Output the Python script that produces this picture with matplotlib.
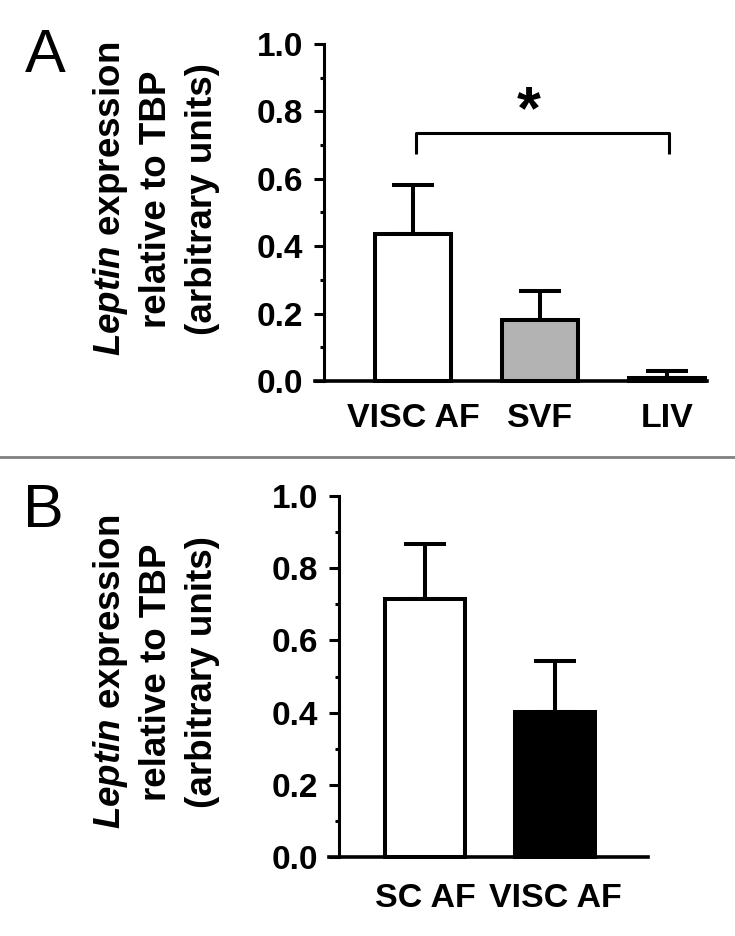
import numpy as np
import matplotlib
matplotlib.use('Agg')
import matplotlib.pyplot as plt
from matplotlib.lines import Line2D
from matplotlib.ticker import MultipleLocator

plt.rcParams['font.family'] = ['Liberation Sans', 'DejaVu Sans']
plt.rcParams['mathtext.fontset'] = 'custom'
plt.rcParams['mathtext.rm'] = 'Liberation Sans:bold'
plt.rcParams['mathtext.it'] = 'Liberation Sans:italic:bold'
plt.rcParams['mathtext.bf'] = 'Liberation Sans:bold'

# ---- data ----
cats_a = ['VISC AF', 'SVF', 'LIV']
means_a = [0.435, 0.182, 0.010]
sem_a = [0.146, 0.085, 0.020]
colors_a = ['white', '#b3b3b3', 'white']

cats_b = ['SC AF', 'VISC AF']
means_b = [0.715, 0.402]
sem_b = [0.151, 0.140]
colors_b = ['white', 'black']

yticks = [0.0, 0.2, 0.4, 0.6, 0.8, 1.0]
ylabel_lines = [r'$\mathit{Leptin}$ expression', 'relative to TBP', '(arbitrary units)']

W, H = 735, 936
fig = plt.figure(figsize=(W / 100, H / 100), dpi=100)


def px_rect(left, top, right, bottom):
    return [left / W, 1 - bottom / H, (right - left) / W, (bottom - top) / H]


def panel(rect, cats, means, sems, colors, xlim, spine_frac, width, xpad):
    ax = fig.add_axes(rect)
    x = np.arange(len(cats))
    ax.errorbar(x, means, yerr=[np.zeros(len(x)), sems], fmt='none', ecolor='black',
                elinewidth=2.9, capsize=15, capthick=2.9, zorder=1, clip_on=False)
    ax.bar(x, means, width=width, color=colors, edgecolor='black', linewidth=2.9,
           zorder=2, clip_on=False)
    ax.set_xlim(*xlim)
    ax.set_ylim(0, 1.0)
    for s in ['top', 'right']:
        ax.spines[s].set_visible(False)
    ax.spines['left'].set_position(('axes', spine_frac))
    ax.spines['left'].set_linewidth(2.2)
    ax.spines['bottom'].set_linewidth(2.6)
    ax.spines['left'].set_zorder(3)
    ax.spines['bottom'].set_zorder(3)
    ax.set_yticks(yticks)
    ax.set_yticklabels([f'{t:.1f}' for t in yticks])
    ax.yaxis.set_minor_locator(MultipleLocator(0.1))
    ax.tick_params(axis='y', which='major', length=7, width=2.2, labelsize=24, pad=8)
    ax.tick_params(axis='y', which='minor', length=3, width=2.2)
    ax.set_xticks(x)
    ax.set_xticklabels(cats)
    ax.tick_params(axis='x', length=0, labelsize=24.5, pad=xpad)
    for lbl in ax.get_yticklabels() + ax.get_xticklabels():
        lbl.set_fontweight('bold')
    return ax


axA = panel(px_rect(315, 44, 707, 381), cats_a, means_a, sem_a, colors_a,
            (-0.772, 2.315), 9 / 392, 0.6, 16)
axB = panel(px_rect(329, 496, 648, 857), cats_b, means_b, sem_b, colors_b,
            (-0.738, 1.715), 10 / 319, 0.615, 19)

# significance bracket
axA.plot([0.02, 0.02, 2.015, 2.015], [0.675, 0.735, 0.735, 0.675], color='black',
         lw=2.2, clip_on=False, solid_capstyle='butt')
axA.text(0.91, 0.75, '*', fontsize=44, fontweight='bold', ha='center', va='baseline')

# y labels
for xc, txt in zip([110, 156, 203], ylabel_lines):
    for yc in [199, 672]:
        fig.text(xc / W, 1 - yc / H, txt, rotation=90, ha='center', va='center',
                 fontsize=26.5, fontweight='bold')

# panel letters
fig.text(25 / W, 1 - 72 / H, 'A', fontsize=44, ha='left', va='baseline')
fig.text(23 / W, 1 - 527 / H, 'B', fontsize=44, ha='left', va='baseline')

# divider
fig.add_artist(Line2D([0, 1], [1 - 457 / H, 1 - 457 / H], transform=fig.transFigure,
                      color='#808080', lw=2))

fig.savefig('out.png', dpi=100)
